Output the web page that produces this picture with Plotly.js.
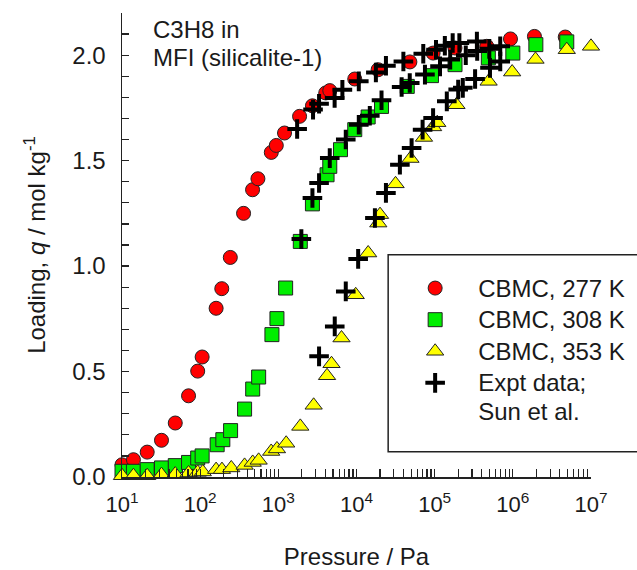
<!DOCTYPE html>
<html>
<head>
<meta charset="utf-8">
<script src="https://cdn.plot.ly/plotly-3.0.1.min.js"></script>
<style>html,body{margin:0;padding:0;background:#fff;}#chart{width:637px;height:570px;}</style>
</head>
<body>
<div id="chart"></div>
<script>
// CBMC, 277 K
const p277 = [10, 14, 21, 32, 48, 71, 93, 106, 160, 189, 243, 359, 468, 548, 813, 942, 1200, 1870, 2730, 4040, 4550, 9500, 18900, 48200, 95500, 182000, 464000, 933000, 1890000, 4680000];
const q277 = [0.058, 0.082, 0.118, 0.174, 0.256, 0.385, 0.502, 0.569, 0.80, 0.893, 1.041, 1.25, 1.362, 1.414, 1.539, 1.572, 1.631, 1.71, 1.76, 1.821, 1.832, 1.887, 1.931, 1.968, 2.01, 2.034, 2.042, 2.077, 2.089, 2.086];
// CBMC, 308 K
const p308 = [10, 14, 21, 32, 48, 71, 93, 106, 165, 195, 245, 370, 470, 560, 828, 960, 1240, 1910, 2730, 4200, 4550, 6240, 9500, 14100, 20900, 44600, 91000, 182000, 486000, 1000000, 1970000, 4900000];
const q308 = [0.027, 0.027, 0.035, 0.043, 0.054, 0.069, 0.09, 0.10, 0.153, 0.177, 0.22, 0.322, 0.417, 0.474, 0.675, 0.751, 0.896, 1.117, 1.295, 1.433, 1.473, 1.552, 1.647, 1.707, 1.757, 1.852, 1.903, 1.955, 1.987, 2.01, 2.05, 2.063];
// CBMC, 353 K
const p353 = [10, 14, 21, 32, 48, 71, 93, 108, 160, 190, 250, 370, 470, 560, 810, 960, 1260, 1910, 2830, 4200, 4790, 6430, 9770, 14100, 19000, 20000, 31600, 49000, 73000, 95500, 108000, 190000, 490000, 980000, 1950000, 4900000, 10000000];
const q353 = [0.006, 0.006, 0.006, 0.011, 0.014, 0.019, 0.022, 0.024, 0.035, 0.035, 0.043, 0.055, 0.069, 0.079, 0.121, 0.133, 0.16, 0.24, 0.34, 0.48, 0.537, 0.659, 0.864, 1.062, 1.204, 1.244, 1.39, 1.51, 1.61, 1.66, 1.68, 1.765, 1.876, 1.92, 1.98, 2.026, 2.042];
// Expt data; Sun et al.
const pExpt = [1740, 2780, 3320, 5250, 6600, 10700, 17700, 23800, 39800, 71500, 104000, 135000, 170000, 207000, 347000, 690000,
               1970, 2730, 3320, 4550, 7290, 10700, 14800, 20900, 37800, 48000, 75100, 117000, 158000, 250000, 350000, 500000,
               3320, 5270, 7290, 10500, 17200, 23800, 35900, 50700, 70100, 95500, 143000, 200000, 229000, 329000, 510000, 690000];
const qExpt = [1.65, 1.742, 1.77, 1.797, 1.836, 1.876, 1.918, 1.95, 1.97, 2.007, 2.026, 2.045, 2.058, 2.058, 2.065, 2.042,
               1.128, 1.323, 1.394, 1.512, 1.60, 1.67, 1.713, 1.786, 1.849, 1.868, 1.908, 1.947, 1.979, 2.0, 2.02, 2.03,
               0.572, 0.714, 0.88, 1.034, 1.228, 1.347, 1.481, 1.56, 1.647, 1.702, 1.781, 1.837, 1.845, 1.887, 1.94, 1.97];

const seriesNames = ['CBMC, 277 K', 'CBMC, 308 K', 'CBMC, 353 K', 'Expt data;<br>Sun et al.'];
const yTickVals = [0, 0.5, 1.0, 1.5, 2.0];
const yTickText = ['0.0', '0.5', '1.0', '1.5', '2.0'];
const yMinorVals = [0.1,0.2,0.3,0.4,0.6,0.7,0.8,0.9,1.1,1.2,1.3,1.4,1.6,1.7,1.8,1.9,2.1,2.2];
const xTickVals = [1e1, 1e2, 1e3, 1e4, 1e5, 1e6, 1e7];
const xTickText = ['10<sup>1</sup>', '10<sup>2</sup>', '10<sup>3</sup>', '10<sup>4</sup>', '10<sup>5</sup>', '10<sup>6</sup>', '10<sup>7</sup>'];
const xMinorVals = [];
xTickVals.slice(0, -1).forEach(dec => { for (let m = 2; m <= 9; m++) xMinorVals.push(m * dec); });

const FONT = 'Arial, "Liberation Sans", sans-serif';
const INK = '#1a1a1a';
const big = s => '<span style="font-size:24px">' + s + '</span>';

const traces = [
  {x: p277, y: q277, name: big(seriesNames[0]), mode: 'markers', type: 'scatter', cliponaxis: false,
   marker: {symbol: 'circle', size: 14, color: '#ff0000', line: {color: '#222', width: 1}}},
  {x: p308, y: q308, name: big(seriesNames[1]), mode: 'markers', type: 'scatter', cliponaxis: false,
   marker: {symbol: 'square', size: 14, color: '#00ee00', line: {color: '#222', width: 1}}},
  {x: p353, y: q353, name: big(seriesNames[2]), mode: 'markers', type: 'scatter', cliponaxis: false,
   marker: {symbol: 'triangle-up', size: 15, color: '#ffff00', line: {color: '#222', width: 1}}},
  {x: pExpt, y: qExpt, name: seriesNames[3].split('<br>').map(big).join('<br>'), mode: 'markers', type: 'scatter', cliponaxis: false,
   marker: {symbol: 'cross-thin', size: 14, color: '#000', line: {color: '#000', width: 4}}}
];

const layout = {
  width: 637, height: 570,
  margin: {l: 122, r: 46, t: 13, b: 93, autoexpand: false},
  paper_bgcolor: '#fff', plot_bgcolor: '#fff',
  font: {family: FONT, size: 24, color: INK},
  showlegend: true,
  legend: {x: 0.576, y: 0.452, xanchor: 'left', yanchor: 'top', bgcolor: 'rgba(0,0,0,0)',
           borderwidth: 0, itemwidth: 76, valign: 'top', font: {family: FONT, size: 22, color: INK}},
  xaxis: {type: 'log', range: [1, 7], showgrid: false, zeroline: false,
          showline: true, linecolor: '#222', linewidth: 1.5, mirror: false,
          ticks: 'inside', ticklen: 8, tickwidth: 1.2, tickcolor: '#222',
          tickmode: 'array', tickvals: xTickVals, ticktext: xTickText,
          minor: {tickmode: 'array', tickvals: xMinorVals, ticks: 'inside', ticklen: 8, tickwidth: 1.2, tickcolor: '#222', showgrid: false},
          tickfont: {family: FONT, size: 22, color: INK}, ticklabelstandoff: 7,
          title: {text: 'Pressure / Pa', font: {family: FONT, size: 24, color: INK}, standoff: 32},
          automargin: false},
  yaxis: {range: [0, 2.2], showgrid: false, zeroline: false,
          showline: true, linecolor: '#222', linewidth: 1.5, mirror: false,
          ticks: 'inside', ticklen: 7, tickwidth: 1.2, tickcolor: '#222',
          tickmode: 'array', tickvals: yTickVals, ticktext: yTickText,
          minor: {tickmode: 'array', tickvals: yMinorVals, ticks: 'inside', ticklen: 7, tickwidth: 1.2, tickcolor: '#222', showgrid: false},
          tickfont: {family: FONT, size: 24, color: INK}, ticklabelstandoff: 10,
          title: {text: 'Loading, <i>q</i> / mol kg<sup>-1</sup>', font: {family: FONT, size: 24, color: INK}, standoff: 20},
          automargin: false},
  shapes: [{type: 'rect', xref: 'paper', yref: 'paper', x0: 0.5675, x1: 1.2, y0: 0.0545, y1: 0.479,
            line: {color: '#222', width: 1.5}, fillcolor: 'rgba(0,0,0,0)', layer: 'below'}],
  annotations: [
    {text: 'C3H8 in', xref: 'paper', yref: 'paper', x: 0.062, y: 0.965, xanchor: 'left', yanchor: 'middle',
     showarrow: false, font: {family: FONT, size: 24, color: INK}},
    {text: 'MFI (silicalite-1)', xref: 'paper', yref: 'paper', x: 0.062, y: 0.904, xanchor: 'left', yanchor: 'middle',
     showarrow: false, font: {family: FONT, size: 24, color: INK}}
  ]
};

Plotly.newPlot('chart', traces, layout, {displayModeBar: false, staticPlot: true});
</script>
</body>
</html>
